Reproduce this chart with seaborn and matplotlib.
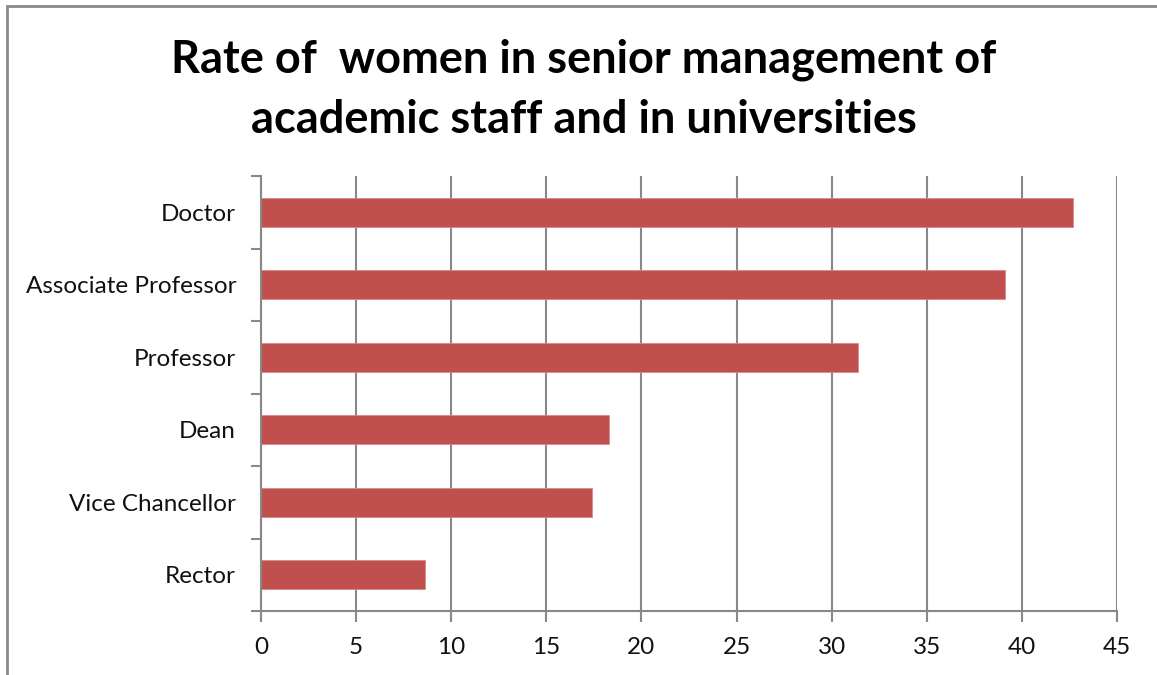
import matplotlib
matplotlib.use("Agg")
import matplotlib.pyplot as plt
from matplotlib.patches import Rectangle
from matplotlib.ticker import FixedLocator
import seaborn as sns
import pandas as pd
import numpy as np

# Data
positions = ["Doctor", "Associate Professor", "Professor", "Dean", "Vice Chancellor", "Rector"]
rates = [42.7, 39.1, 31.4, 18.3, 17.4, 8.6]
x_ticks = [0, 5, 10, 15, 20, 25, 30, 35, 40, 45]

sns.set_theme(style="white")
plt.rcParams["font.family"] = ["Lato", "DejaVu Sans"]

df = pd.DataFrame({"position": positions, "rate": rates})

fig = plt.figure(figsize=(11.57, 6.75), dpi=100)
ax = fig.add_axes([261 / 1157, 1 - 611 / 675, (1117 - 261) / 1157, (611 - 176) / 675])

grid_color = "#888888"
bar_color = "#C0504D"

sns.barplot(data=df, x="rate", y="position", order=positions, color=bar_color,
            width=0.4, saturation=1, ax=ax, zorder=3)
for p in ax.patches:
    p.set_edgecolor("#d98a88")
    p.set_linewidth(0.6)

ax.set_xlim(0, 45)
ax.set_ylim(len(positions) - 0.5, -0.5)
ax.set_xlabel("")
ax.set_ylabel("")

# vertical gridlines
ax.xaxis.set_major_locator(FixedLocator(x_ticks))
ax.set_xticklabels([str(t) for t in x_ticks])
ax.grid(axis="x", color=grid_color, linewidth=1.5, zorder=0)
ax.grid(axis="y", visible=False)
ax.set_axisbelow(True)

# category boundaries as major ticks, labels on minor ticks at bar centres
ax.yaxis.set_major_locator(FixedLocator(np.arange(-0.5, len(positions), 1.0)))
ax.yaxis.set_major_formatter(plt.NullFormatter())
ax.set_yticks(np.arange(len(positions)), labels=positions, minor=True)
ax.tick_params(axis="y", which="major", left=True, length=7, width=1.5, color=grid_color)
ax.tick_params(axis="y", which="minor", left=False, length=0, pad=18, labelsize=17.5, labelcolor="#111111")
ax.tick_params(axis="x", which="major", bottom=True, length=8, width=1.5, color=grid_color,
               pad=11, labelsize=17.5, labelcolor="#111111")

for side in ["top", "right"]:
    ax.spines[side].set_visible(False)
for side in ["left", "bottom"]:
    ax.spines[side].set_color(grid_color)
    ax.spines[side].set_linewidth(1.5)
    ax.spines[side].set_zorder(4)

fig.text(584 / 1157, 1 - 60 / 675, "Rate of  women in senior management of",
         ha="center", va="center", fontsize=32.5, fontweight="bold", color="#000000")
fig.text(584 / 1157, 1 - 120 / 675, "academic staff and in universities",
         ha="center", va="center", fontsize=32.5, fontweight="bold", color="#000000")

# chart frame
fig.patches.append(Rectangle((7 / 1157, -0.1), 1.2, 1 - 6 / 675 + 0.1,
                             transform=fig.transFigure, fill=False,
                             edgecolor="#8a8a8a", linewidth=2))

fig.savefig("out.png", dpi=100, facecolor="white")
